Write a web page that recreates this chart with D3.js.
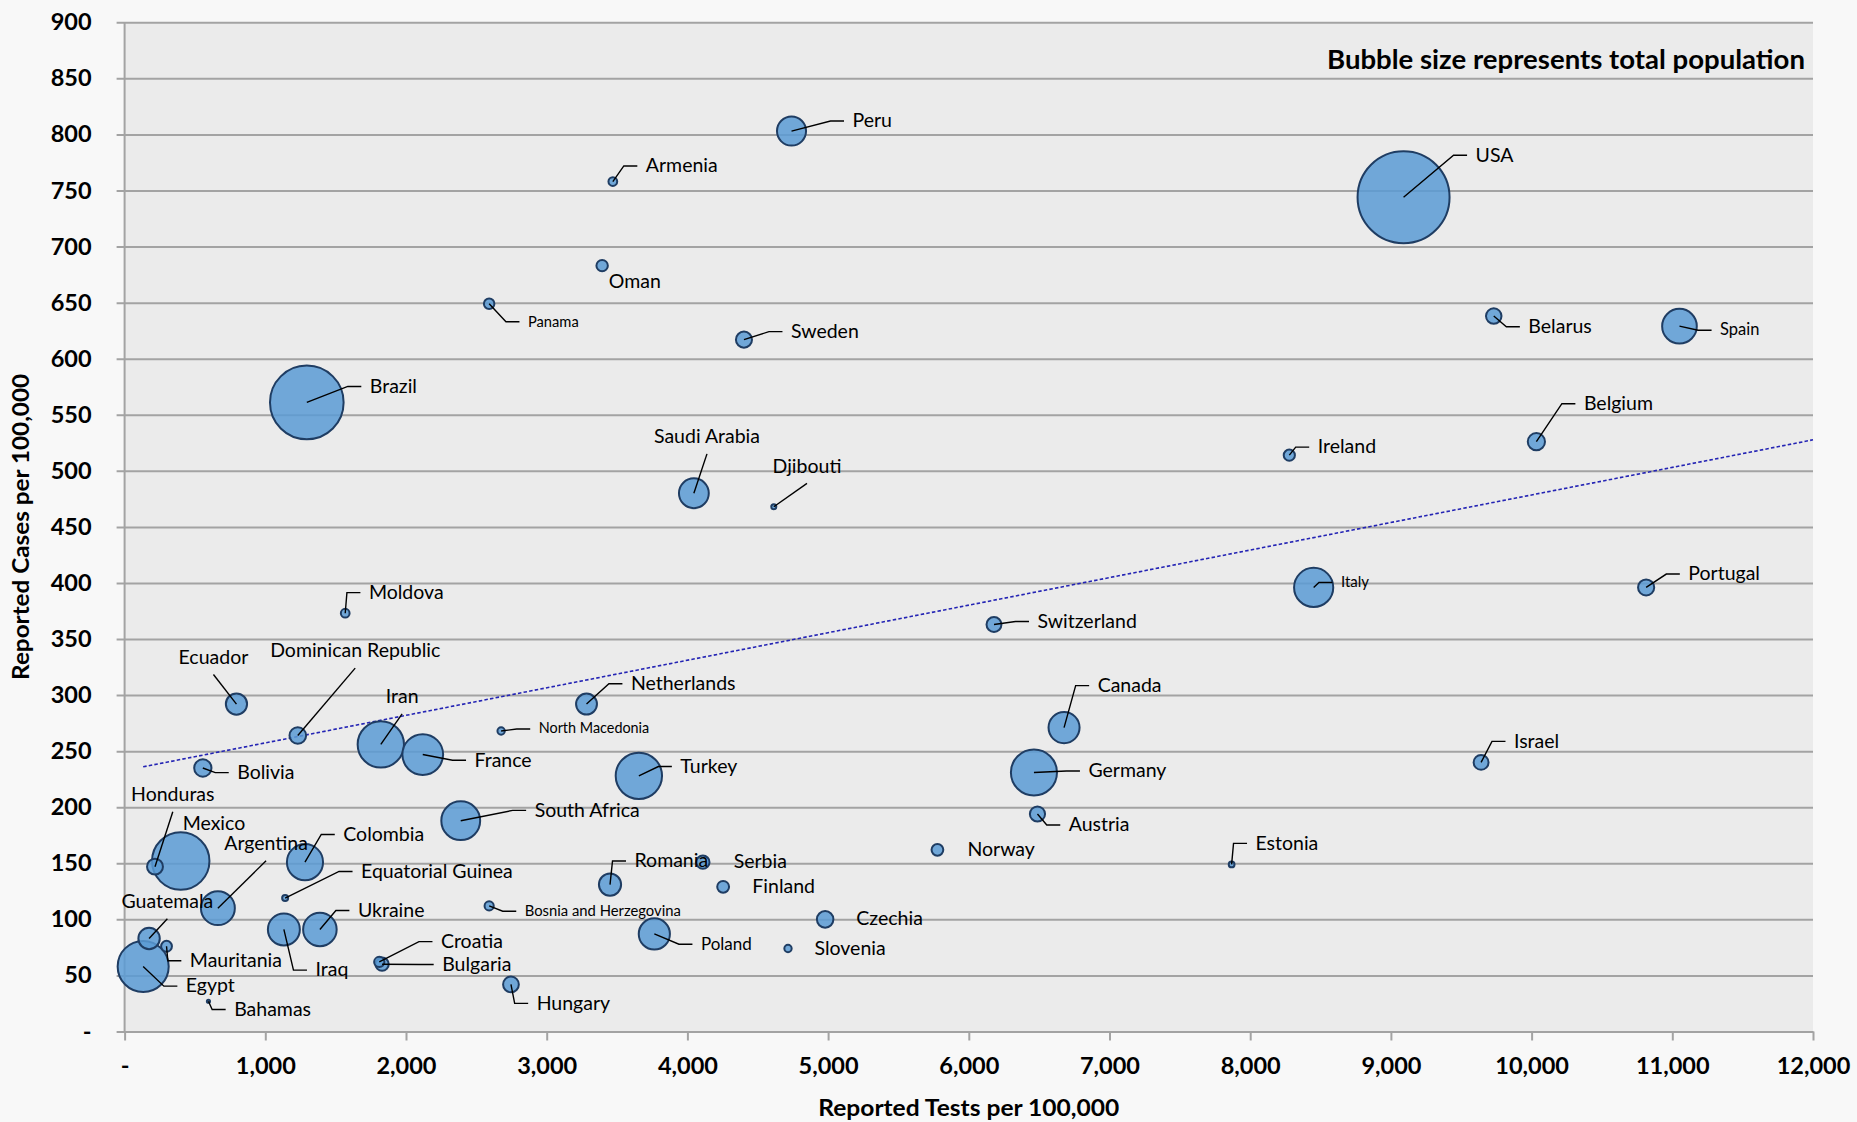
<!DOCTYPE html>
<html>
<head>
<meta charset="utf-8">
<script src="https://cdn.jsdelivr.net/npm/d3@7"></script>
<style>
  html, body { margin: 0; padding: 0; background: #f8f8f8; }
  svg { display: block; font-family: Lato, "Open Sans", sans-serif; }
</style>
</head>
<body>
<svg id="chart" width="1857" height="1122"></svg>
<script>
// ---------------- DATA ----------------
const countries = ["Peru","Armenia","USA","Oman","Panama","Sweden","Belarus","Spain","Brazil","Belgium",
  "Ireland","Saudi Arabia","Djibouti","Italy","Portugal","Moldova","Switzerland","Ecuador","Netherlands","Dominican Republic",
  "North Macedonia","Canada","Iran","France","Bolivia","Israel","Turkey","Germany","Austria","South Africa",
  "Mexico","Honduras","Colombia","Norway","Serbia","Romania","Finland","Estonia","Argentina","Equatorial Guinea",
  "Bosnia and Herzegovina","Czechia","Guatemala","Iraq","Ukraine","Poland","Mauritania","Slovenia","Croatia","Bulgaria",
  "Egypt","Hungary","Bahamas"];
const testsPer100k = [4740,3470,9090,3394,2591,4402,9731,11051,1295,10034,
  8278,4046,4614,8451,10814,1568,6179,795,3283,1231,
  2676,6677,1821,2119,556,9641,3655,6463,6488,2389,
  399,216,1282,5777,4110,3450,4254,7868,663,1141,
  2591,4979,174,1132,1388,3765,298,4715,1810,1830,
  132,2746,596];
const casesPer100k = [803,758,744,683,649,617,638,629,561,526,
  514,480,468,396,396,373,363,292,292,264,
  268,271,256,247,235,240,228,231,194,188,
  152,147,151,162,151,131,129,149,110,119,
  112,100,83,91,91,87,76,74,62,60,
  58,42,27];
const populationM = [33,3,331,5.1,4.3,10.1,9.4,47,212,11.6,
  4.9,34.8,1.0,60,10.2,3.0,8.7,17.6,17.1,10.8,
  2.1,37.7,84,65,11.7,8.7,84,83,9.0,59,
  129,9.9,51,5.4,6.9,19.2,5.5,1.3,45,1.4,
  3.3,10.7,17.9,40,44,38,4.6,2.1,4.1,6.9,
  102,9.7,0.39];
const xTickValues = [0,1000,2000,3000,4000,5000,6000,7000,8000,9000,10000,11000,12000];
const yTickValues = [0,50,100,150,200,250,300,350,400,450,500,550,600,650,700,750,800,850,900];
// linear trend line: cases = trendIntercept + trendSlope * tests
const trendIntercept = 232.8;
const trendSlope = 0.02457;
const trendRange = [132, 12000];

const xTitle = "Reported Tests per 100,000";
const yTitle = "Reported Cases per 100,000";
const noteText = "Bubble size represents total population";

// ---------------- LABEL LAYOUT (pixel offsets from bubble centre) ----------------
// [dx, dy, type, fontSize]  type: r = right of leader elbow, a = above with straight leader, n = no leader (start), m = no leader (middle)
const labelLayout = [
  [61,-9,"r",19.5],[33,-14.6,"r",19.5],[72,-41,"r",19.5],[6.7,16.7,"n",19.5],[38.8,19,"r",14.7],[47,-7,"r",19.5],[34.6,11.7,"r",19.5],[40.6,5,"r",16.5],[63,-15,"r",19.5],[47.5,-37,"r",19.5],
  [28.4,-7,"r",19.5],[13.1,-55.4,"a",19.5],[33.2,-39.3,"a",19.5],[27.3,-4,"r",15],[42.2,-12.4,"r",19.5],[23.7,-19.6,"r",19.5],[43.5,-2,"r",19.5],[-23,-45.6,"a",19.5],[44.4,-19.3,"r",19.5],[57.4,-83.3,"a",19.5],
  [37.6,-1,"r",14.4],[33.6,-41,"r",19.5],[21.3,-46.6,"a",19.5],[51.8,6.7,"r",19.5],[34.4,5.6,"r",19.5],[32.9,-20,"r",19.5],[41.5,-8.3,"r",19.5],[54.5,-0.4,"r",19.5],[31.3,12,"r",19.5],[73.9,-9.3,"r",19.5],
  [33.2,-36,"m",19.5],[17.8,-71,"a",19.5],[38.3,-26.7,"r",19.5],[30,0.7,"n",19.5],[30.8,1,"n",19.5],[24.5,-22.6,"r",19.5],[29.2,1,"n",19.5],[23.9,-20,"r",19.5],[48.2,-63.4,"a",19.5],[75.9,-25.6,"r",19.5],
  [35.6,6.3,"r",14.8],[31.2,0,"n",19.5],[18.3,-35.6,"a",19.5],[31.6,41.7,"r",19.5],[38,-18,"r",19.5],[46.6,11.3,"r",17],[23.3,15.4,"r",19.5],[26.5,1,"n",19.5],[61.7,-19.4,"r",19.5],[60.1,1.3,"r",19.5],
  [42.7,20.7,"r",19.5],[25.7,20,"r",19.5],[25.7,9.3,"r",19.5]
];
const labelTextShift = -2.2;

// ---------------- CHART ----------------
const svg = d3.select("#chart");
const plot = {left: 124.6, right: 1813, top: 22.3, bottom: 1031.5};

const x = d3.scaleLinear().domain([0, 12000]).range([plot.left, plot.right]);
const y = d3.scaleLinear().domain([0, 900]).range([plot.bottom, plot.top]);
const r = d3.scaleSqrt().domain([0, 331]).range([0, 46]);

const gridColor = "#a3a3a3";
const fmt = d3.format(",");
const tickFmt = v => v === 0 ? "-" : fmt(v);

// plot background
svg.append("rect")
  .attr("x", plot.left).attr("y", plot.top)
  .attr("width", plot.right - plot.left).attr("height", plot.bottom - plot.top)
  .attr("fill", "#ebebeb");

// y axis with gridlines
const yAxis = d3.axisLeft(y).tickValues(yTickValues).tickFormat(tickFmt)
  .tickSize(-(plot.right - plot.left + 8)).tickPadding(25);
const gy = svg.append("g").attr("transform", `translate(${plot.left - 8},0)`).call(yAxis);
gy.select(".domain").remove();
gy.selectAll(".tick line").attr("stroke", gridColor).attr("stroke-width", 2);
gy.selectAll(".tick text")
  .attr("font-family", "Lato, sans-serif").attr("font-weight", "bold")
  .attr("font-size", 23.5).attr("fill", "#000");

// y axis line
svg.append("line").attr("x1", plot.left).attr("x2", plot.left)
  .attr("y1", plot.top).attr("y2", plot.bottom)
  .attr("stroke", gridColor).attr("stroke-width", 2);

// x axis
const xAxis = d3.axisBottom(x).tickValues(xTickValues).tickFormat(tickFmt)
  .tickSize(9).tickSizeOuter(0).tickPadding(17);
const gx = svg.append("g").attr("transform", `translate(0,${plot.bottom})`).call(xAxis);
gx.select(".domain").attr("stroke", gridColor).attr("stroke-width", 2);
gx.selectAll(".tick line").attr("stroke", gridColor).attr("stroke-width", 2);
gx.selectAll(".tick text")
  .attr("font-family", "Lato, sans-serif").attr("font-weight", "bold")
  .attr("font-size", 23.5).attr("fill", "#000");

// axis titles
svg.append("text")
  .attr("x", (plot.left + plot.right) / 2).attr("y", 1106.5)
  .attr("text-anchor", "middle").attr("dominant-baseline", "central")
  .attr("font-weight", "bold").attr("font-size", 23.5).attr("fill", "#000")
  .attr("textLength", 301).attr("lengthAdjust", "spacingAndGlyphs")
  .text(xTitle);
svg.append("text")
  .attr("transform", `translate(20,${(plot.top + plot.bottom) / 2}) rotate(-90)`)
  .attr("text-anchor", "middle").attr("dominant-baseline", "central")
  .attr("font-weight", "bold").attr("font-size", 23.5).attr("fill", "#000")
  .attr("textLength", 306).attr("lengthAdjust", "spacingAndGlyphs")
  .text(yTitle);

// note
svg.append("text")
  .attr("x", 1805).attr("y", 58.5)
  .attr("text-anchor", "end").attr("dominant-baseline", "central")
  .attr("font-weight", "bold").attr("font-size", 26.5).attr("fill", "#000")
  .attr("textLength", 478).attr("lengthAdjust", "spacingAndGlyphs")
  .text(noteText);

// data rows
const rows = countries.map((c, i) => ({
  name: c, tx: testsPer100k[i], cy: casesPer100k[i], pop: populationM[i],
  lay: labelLayout[i]
}));

// trend line
svg.append("line")
  .attr("x1", x(trendRange[0])).attr("y1", y(trendIntercept + trendSlope * trendRange[0]))
  .attr("x2", x(trendRange[1])).attr("y2", y(trendIntercept + trendSlope * trendRange[1]))
  .attr("stroke", "#2424b4").attr("stroke-width", 1.6)
  .attr("stroke-dasharray", "3.5,2.2");

// bubbles (large first)
svg.append("g").selectAll("circle")
  .data(rows.slice().sort((a, b) => b.pop - a.pop))
  .join("circle")
  .attr("cx", d => x(d.tx)).attr("cy", d => y(d.cy))
  .attr("r", d => r(d.pop))
  .attr("fill", "rgb(91,155,213)").attr("fill-opacity", 0.85)
  .attr("stroke", "#1f3d63").attr("stroke-width", 2);

// leader lines
const leaders = svg.append("g").attr("fill", "none").attr("stroke", "#000").attr("stroke-width", 1.4);
rows.forEach(d => {
  const cx = x(d.tx), cy = y(d.cy);
  const [dx, dy, type] = d.lay;
  const lx = cx + dx, ly = cy + dy;
  if (type === "r") {
    leaders.append("polyline").attr("points",
      [[cx, cy], [lx - 22, ly - 1], [lx - 8.5, ly - 1]].map(p => p.join(",")).join(" "));
  } else if (type === "a") {
    leaders.append("line").attr("x1", cx).attr("y1", cy).attr("x2", lx).attr("y2", ly + 16);
  }
});

// labels
svg.append("g").selectAll("text")
  .data(rows)
  .join("text")
  .attr("x", d => x(d.tx) + d.lay[0])
  .attr("y", d => y(d.cy) + d.lay[1] + labelTextShift)
  .attr("text-anchor", d => (d.lay[2] === "a" || d.lay[2] === "m") ? "middle" : "start")
  .attr("dominant-baseline", "central")
  .attr("font-size", d => d.lay[3])
  .attr("fill", "#000")
  .text(d => d.name);
</script>
</body>
</html>
